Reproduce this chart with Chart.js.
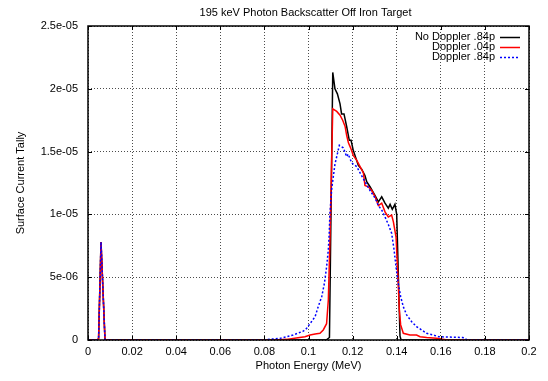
<!DOCTYPE html>
<html>
<head>
<meta charset="utf-8">
<script src="https://cdn.jsdelivr.net/npm/chart.js@4"></script>
<style>
  html, body { margin: 0; padding: 0; background: #fff; }
</style>
</head>
<body>
<canvas id="backscatter" width="548" height="381"></canvas>
<script>
// data (energy in MeV, tally per bin)
const chartTitle = '195 keV Photon Backscatter Off Iron Target';
const seriesNames = ['No Doppler .84p', 'Doppler .04p', 'Doppler .84p'];

const energyNoDoppler = [0, 0.004, 0.0048, 0.0059, 0.0077, 0.009, 0.108, 0.1095, 0.111, 0.112, 0.1131, 0.1143, 0.115, 0.1161,
  0.1173, 0.1185, 0.1193, 0.1203, 0.1226, 0.1241, 0.1256, 0.1264, 0.1279, 0.1302, 0.1317, 0.1332, 0.1347, 0.1362,
  0.137, 0.138, 0.1392, 0.14, 0.1415, 0.142, 0.2];
const tallyNoDoppler = [0, 0, 0.1e-6, 7.8e-6, 0.05e-6, 0, 0, 0.2e-6, 21.3e-6, 20.0e-6, 19.6e-6, 18.8e-6, 18.0e-6, 18.0e-6,
  17.0e-6, 15.9e-6, 15.9e-6, 15.1e-6, 13.9e-6, 13.6e-6, 13.1e-6, 12.6e-6, 12.2e-6, 11.5e-6, 11.0e-6, 11.4e-6, 10.9e-6, 10.5e-6,
  10.8e-6, 10.4e-6, 10.8e-6, 10.0e-6, 0.3e-6, 0, 0];

const energyDoppler04 = [0, 0.004, 0.0048, 0.0059, 0.0077, 0.009, 0.085, 0.09, 0.096, 0.0984, 0.1007, 0.103, 0.1052, 0.1067,
  0.1082, 0.109, 0.1098, 0.111, 0.1128, 0.1143, 0.1155, 0.1166, 0.1173, 0.1181, 0.1191, 0.1203, 0.1219, 0.1234, 0.1249,
  0.1256, 0.1271, 0.1287, 0.1302, 0.1317, 0.1332, 0.1347, 0.1362, 0.1377, 0.1385, 0.1397, 0.1407, 0.1412, 0.1418, 0.143,
  0.146, 0.149, 0.1506, 0.1536, 0.158, 0.163, 0.2];
const tallyDoppler04 = [0, 0, 0.1e-6, 7.8e-6, 0.05e-6, 0, 0, 0.05e-6, 0.2e-6, 0.26e-6, 0.4e-6, 0.48e-6, 0.53e-6, 0.8e-6,
  1.3e-6, 3.2e-6, 8.5e-6, 18.4e-6, 18.2e-6, 17.9e-6, 17.5e-6, 17.0e-6, 16.3e-6, 15.7e-6, 15.3e-6, 14.7e-6, 14.3e-6, 13.8e-6, 13.3e-6,
  12.3e-6, 12.2e-6, 11.9e-6, 11.4e-6, 10.7e-6, 10.9e-6, 10.2e-6, 9.8e-6, 9.95e-6, 9.4e-6, 8.2e-6, 4.5e-6, 2.4e-6, 1.2e-6, 0.53e-6,
  0.4e-6, 0.4e-6, 0.26e-6, 0.2e-6, 0.13e-6, 0, 0];

const energyDoppler84 = [0, 0.004, 0.0048, 0.0059, 0.0077, 0.009, 0.079, 0.087, 0.09, 0.093, 0.0976, 0.099, 0.1007, 0.103,
  0.1044, 0.106, 0.1072, 0.1082, 0.109, 0.1094, 0.1097, 0.1105, 0.112, 0.114, 0.1158, 0.1173, 0.118, 0.1196, 0.1219, 0.1234,
  0.1256, 0.1279, 0.1302, 0.1317, 0.1332, 0.1347, 0.1362, 0.1377, 0.1388, 0.1397, 0.1407, 0.1418, 0.143, 0.1445, 0.1468,
  0.149, 0.1513, 0.1536, 0.1566, 0.159, 0.17, 0.172, 0.2];
const tallyDoppler84 = [0, 0, 0.1e-6, 7.8e-6, 0.05e-6, 0, 0, 0.13e-6, 0.26e-6, 0.4e-6, 0.7e-6, 0.9e-6, 1.3e-6, 1.86e-6,
  2.65e-6, 3.45e-6, 4.5e-6, 5.8e-6, 7.2e-6, 8.5e-6, 10.0e-6, 12.0e-6, 14.0e-6, 15.5e-6, 15.3e-6, 14.6e-6, 14.8e-6, 14.1e-6, 13.8e-6, 13.3e-6,
  12.6e-6, 11.9e-6, 11.3e-6, 10.7e-6, 10.35e-6, 9.8e-6, 9.2e-6, 8.5e-6, 7.2e-6, 5.8e-6, 4.5e-6, 3.45e-6, 2.65e-6, 2.0e-6, 1.46e-6,
  1.06e-6, 0.8e-6, 0.53e-6, 0.4e-6, 0.26e-6, 0.2e-6, 0, 0];

const xTickValues = [0, 0.02, 0.04, 0.06, 0.08, 0.1, 0.12, 0.14, 0.16, 0.18, 0.2];
const xTickLabels = ['0', '0.02', '0.04', '0.06', '0.08', '0.1', '0.12', '0.14', '0.16', '0.18', '0.2'];
const yTickValues = [0, 5e-6, 1e-5, 1.5e-5, 2e-5, 2.5e-5];
const yTickLabels = ['0', '5e-06', '1e-05', '1.5e-05', '2e-05', '2.5e-05'];

function toPoints(xs, ys) {
  return xs.map((x, i) => ({ x: x, y: ys[i] }));
}

const fontFamily = '"Liberation Sans", Arial, Helvetica, sans-serif';
Chart.defaults.font.family = fontFamily;
Chart.defaults.color = '#000';

// gnuplot style frame: full border + inward ticks on all four sides, title over the plot centre
const framePlugin = {
  id: 'frame',
  afterDraw(chart) {
    const ctx = chart.ctx;
    const a = chart.chartArea;
    const xs = chart.scales.x, ys = chart.scales.y;
    ctx.save();
    ctx.strokeStyle = '#000';
    ctx.lineWidth = 1;
    ctx.beginPath();
    xTickValues.forEach(v => {
      const px = Math.round(xs.getPixelForValue(v)) + 0.5;
      ctx.moveTo(px, a.bottom); ctx.lineTo(px, a.bottom - 4);
      ctx.moveTo(px, a.top); ctx.lineTo(px, a.top + 4);
    });
    yTickValues.forEach(v => {
      const py = Math.round(ys.getPixelForValue(v)) + 0.5;
      ctx.moveTo(a.left, py); ctx.lineTo(a.left + 4, py);
      ctx.moveTo(a.right, py); ctx.lineTo(a.right - 4, py);
    });
    ctx.stroke();
    ctx.lineWidth = 1.5;
    ctx.strokeRect(a.left, a.top, a.right - a.left, a.bottom - a.top);

    ctx.fillStyle = '#000';
    ctx.font = '11px ' + fontFamily;
    ctx.textAlign = 'center';
    ctx.textBaseline = 'middle';
    ctx.fillText(chartTitle, (a.left + a.right) / 2 - 3, 13);
    ctx.restore();
  }
};

// key in the top right corner: label right aligned, sample line after it
const keyPlugin = {
  id: 'key',
  afterDraw(chart) {
    const ctx = chart.ctx;
    const a = chart.chartArea;
    ctx.save();
    ctx.font = '11px ' + fontFamily;
    ctx.textAlign = 'right';
    ctx.textBaseline = 'middle';
    chart.data.datasets.forEach((ds, i) => {
      const y = a.top + 10.5 + i * 10;
      ctx.fillStyle = '#000';
      ctx.fillText(ds.label, a.right - 34, y);
      ctx.strokeStyle = ds.borderColor;
      ctx.lineWidth = ds.borderWidth;
      ctx.setLineDash(ds.borderDash || []);
      ctx.beginPath();
      ctx.moveTo(a.right - 29, Math.round(y) + 0.5);
      ctx.lineTo(a.right - 9, Math.round(y) + 0.5);
      ctx.stroke();
    });
    ctx.restore();
  }
};

const ctx = document.getElementById('backscatter').getContext('2d');
const backscatterChart = new Chart(ctx, {
  type: 'scatter',
  data: {
    datasets: [
      {
        label: seriesNames[0],
        data: toPoints(energyNoDoppler, tallyNoDoppler),
        borderColor: '#000000',
        borderWidth: 1.5,
        showLine: true,
        pointRadius: 0,
        order: 3
      },
      {
        label: seriesNames[1],
        data: toPoints(energyDoppler04, tallyDoppler04),
        borderColor: '#ff0000',
        borderWidth: 1.5,
        showLine: true,
        pointRadius: 0,
        order: 2
      },
      {
        label: seriesNames[2],
        data: toPoints(energyDoppler84, tallyDoppler84),
        borderColor: '#0000ff',
        borderWidth: 1.5,
        borderDash: [2, 2],
        showLine: true,
        pointRadius: 0,
        order: 1
      }
    ]
  },
  options: {
    responsive: false,
    animation: false,
    layout: { padding: { left: 0, right: 19, top: 26, bottom: 0 } },
    plugins: {
      legend: { display: false },
      tooltip: { enabled: false },
      title: { display: false }
    },
    scales: {
      x: {
        type: 'linear',
        min: 0,
        max: 0.2,
        afterBuildTicks: scale => { scale.ticks = xTickValues.map(v => ({ value: v })); },
        afterFit: scale => { scale.height = 41; },
        ticks: {
          font: { size: 11 },
          padding: 5,
          maxRotation: 0,
          callback: (v, i) => xTickLabels[i]
        },
        grid: {
          color: 'rgba(0,0,0,0.7)',
          lineWidth: 1,
          drawTicks: false
        },
        border: { display: false, dash: [1, 2] },
        title: {
          display: true,
          text: 'Photon Energy (MeV)',
          font: { size: 11 },
          padding: { top: 0, bottom: 8 }
        }
      },
      y: {
        type: 'linear',
        min: 0,
        max: 2.5e-5,
        afterBuildTicks: scale => { scale.ticks = yTickValues.map(v => ({ value: v })); },
        afterFit: scale => { scale.width = 88; },
        ticks: {
          font: { size: 11 },
          padding: 10,
          callback: (v, i) => yTickLabels[i]
        },
        grid: {
          color: 'rgba(0,0,0,0.7)',
          lineWidth: 1,
          drawTicks: false
        },
        border: { display: false, dash: [1, 2] },
        title: {
          display: true,
          text: 'Surface Current Tally',
          font: { size: 11 },
          padding: { top: 14, bottom: 0 }
        }
      }
    }
  },
  plugins: [framePlugin, keyPlugin]
});
</script>
</body>
</html>
